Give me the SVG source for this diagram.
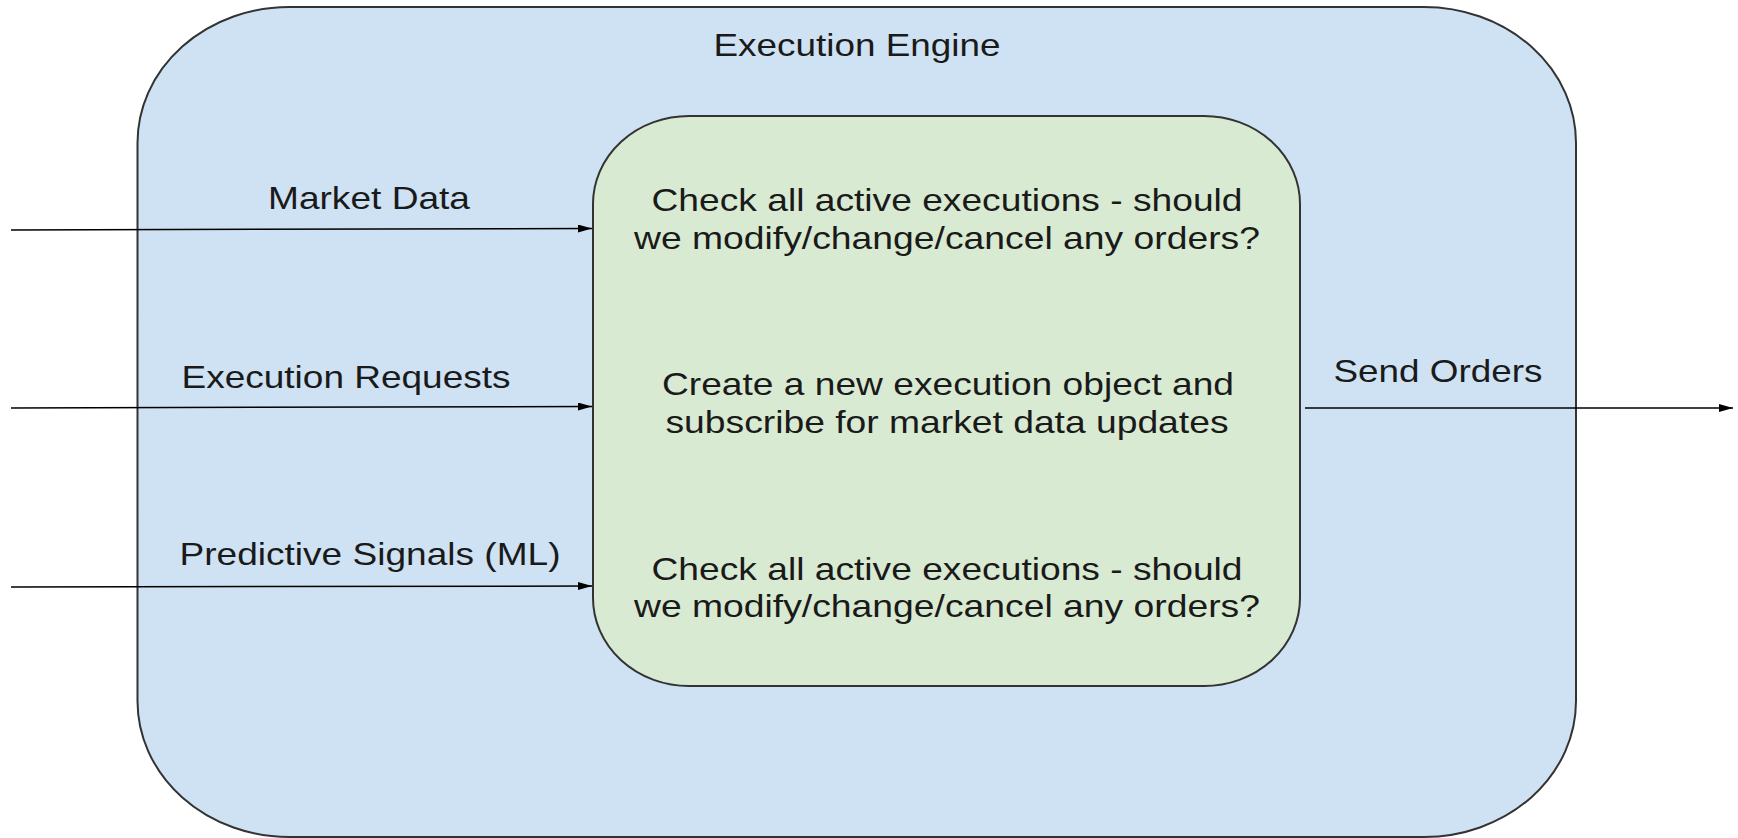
<svg xmlns="http://www.w3.org/2000/svg" width="1738" height="838" viewBox="0 0 1738 838">
<style>
.t{font-family:"Liberation Sans",Arial,sans-serif;font-size:32px;fill:#1a1a1a}
.c{text-anchor:middle}
.edge{stroke:#000;stroke-width:1.5;fill:none;marker-end:url(#ah)}
</style>
<defs>
<marker id="ah" viewBox="0 0 14 8" refX="14" refY="4" markerWidth="14" markerHeight="8" markerUnits="userSpaceOnUse" orient="auto">
<path d="M0,0 L14,4 L0,8 Z" fill="#000"/>
</marker>
</defs>
<rect width="1738" height="838" fill="#fff"/>
<g id="engine">
<rect x="137.5" y="7" width="1438.5" height="830" rx="152" ry="136" fill="#cfe2f3" stroke="#333" stroke-width="2"/>
<text class="t c" x="857" y="56" textLength="287" lengthAdjust="spacingAndGlyphs">Execution Engine</text>
</g>
<g id="processor">
<rect x="593" y="116" width="707" height="570" rx="96" ry="88" fill="#d9ead3" stroke="#333" stroke-width="2"/>
<text class="t c" x="947" y="211" textLength="591" lengthAdjust="spacingAndGlyphs">Check all active executions - should</text>
<text class="t c" x="947" y="249" textLength="626" lengthAdjust="spacingAndGlyphs">we modify/change/cancel any orders?</text>
<text class="t c" x="948" y="395" textLength="572" lengthAdjust="spacingAndGlyphs">Create a new execution object and</text>
<text class="t c" x="947" y="433" textLength="563" lengthAdjust="spacingAndGlyphs">subscribe for market data updates</text>
<text class="t c" x="947" y="580" textLength="591" lengthAdjust="spacingAndGlyphs">Check all active executions - should</text>
<text class="t c" x="947" y="617" textLength="626" lengthAdjust="spacingAndGlyphs">we modify/change/cancel any orders?</text>
</g>
<g id="connectors">
<path class="edge" d="M11,230 L592,228.5"/>
<path class="edge" d="M11,408 L592,406.5"/>
<path class="edge" d="M11,587 L592,586"/>
<path class="edge" d="M1305,408 L1733,408"/>
<text class="t c" x="369" y="209" textLength="202" lengthAdjust="spacingAndGlyphs">Market Data</text>
<text class="t c" x="346" y="388" textLength="329" lengthAdjust="spacingAndGlyphs">Execution Requests</text>
<text class="t c" x="370" y="565" textLength="381" lengthAdjust="spacingAndGlyphs">Predictive Signals (ML)</text>
<text class="t c" x="1438" y="382" textLength="209" lengthAdjust="spacingAndGlyphs">Send Orders</text>
</g>
</svg>
